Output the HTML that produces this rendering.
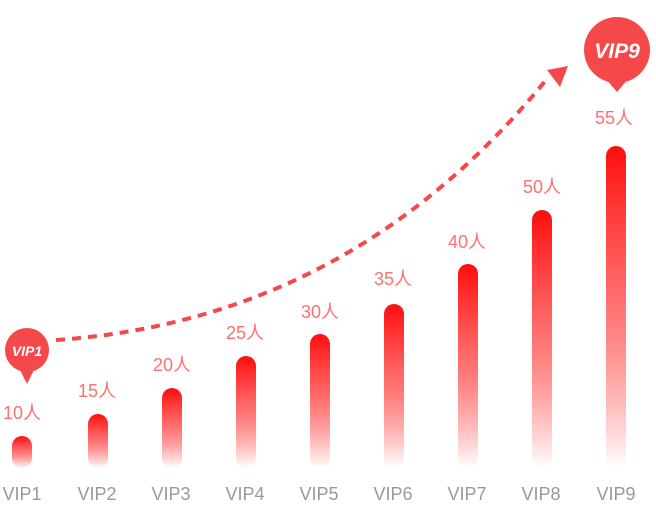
<!DOCTYPE html>
<html><head><meta charset="utf-8"><style>
body{margin:0;background:#fff;}
svg text{font-family:"Liberation Sans","Noto Sans CJK SC",sans-serif;}
</style></head><body>
<svg width="656" height="506" viewBox="0 0 656 506" xmlns="http://www.w3.org/2000/svg">
<defs>
<linearGradient id="g" x1="0" y1="0" x2="0" y2="1">
<stop offset="0" stop-color="#ff0d0d"/><stop offset="0.5" stop-color="#ff5a5a" stop-opacity="0.85"/><stop offset="1" stop-color="#ff2020" stop-opacity="0"/>
</linearGradient>
</defs>
<g fill="url(#g)">
<rect x="12" y="436" width="20" height="32" rx="10"/>
<rect x="88" y="414" width="20" height="54" rx="10"/>
<rect x="162" y="388" width="20" height="80" rx="10"/>
<rect x="236" y="356" width="20" height="112" rx="10"/>
<rect x="310" y="334" width="20" height="134" rx="10"/>
<rect x="384" y="304" width="20" height="164" rx="10"/>
<rect x="458" y="264" width="20" height="204" rx="10"/>
<rect x="532" y="210" width="20" height="258" rx="10"/>
<rect x="606" y="146" width="20" height="322" rx="10"/>
</g>
<g fill="#ff7070" font-size="18" text-anchor="middle">
<text x="22" y="419">10人</text>
<text x="97" y="397">15人</text>
<text x="172" y="371">20人</text>
<text x="245" y="339">25人</text>
<text x="320" y="318">30人</text>
<text x="393" y="285">35人</text>
<text x="467" y="248">40人</text>
<text x="542" y="193">50人</text>
<text x="614" y="124">55人</text>
</g>
<g fill="#999" font-size="18" text-anchor="middle">
<text x="22" y="500">VIP1</text>
<text x="97" y="500">VIP2</text>
<text x="171" y="500">VIP3</text>
<text x="245" y="500">VIP4</text>
<text x="319" y="500">VIP5</text>
<text x="393" y="500">VIP6</text>
<text x="467" y="500">VIP7</text>
<text x="541" y="500">VIP8</text>
<text x="616" y="500">VIP9</text>
</g>
<path d="M56,340 Q350,320 546,80" fill="none" stroke="#f5484b" stroke-width="4" stroke-dasharray="9,7"/>
<polygon points="547,70 568,66 560,87" fill="#f5484b"/>
<g fill="#f5484b">
<circle cx="27" cy="350" r="22"/>
<polygon points="19,368 35,368 27,384"/>
<circle cx="617" cy="50" r="33"/>
<polygon points="605,78 629,78 617,92"/>
</g>
<g fill="#fff" font-weight="bold" font-style="italic" text-anchor="middle">
<text x="27" y="356" font-size="14">VIP1</text>
<text x="617" y="58" font-size="21">VIP9</text>
</g>
</svg>
</body></html>
